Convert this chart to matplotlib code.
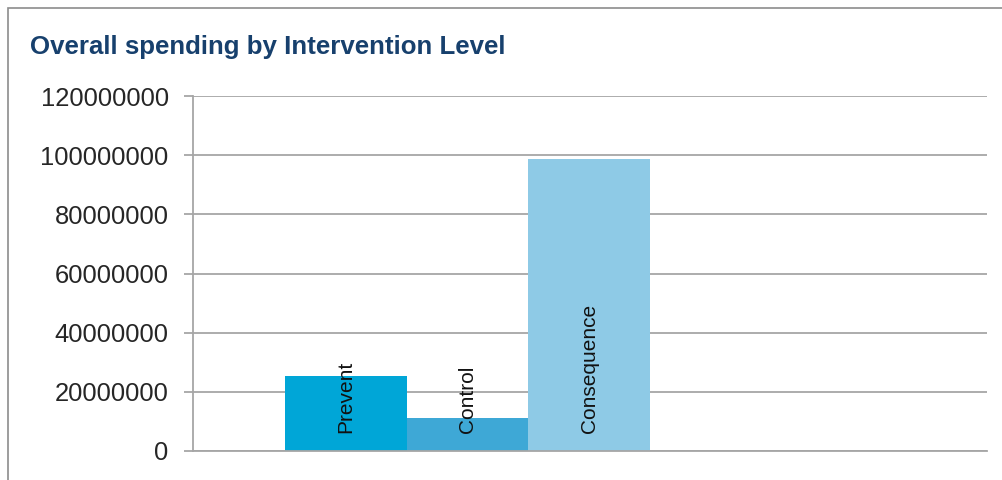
import matplotlib.pyplot as plt
from matplotlib.patches import Rectangle

# Chart data
levels = ['Prevent', 'Control', 'Consequence']
spending = [25400000, 11300000, 98800000]
bar_colors = ['#00A6D7', '#3EA8D6', '#8ECAE6']
y_ticks = [0, 20000000, 40000000, 60000000, 80000000, 100000000, 120000000]

plt.rcParams['font.family'] = ['Liberation Sans', 'DejaVu Sans']

fig = plt.figure(figsize=(10.03, 4.80), dpi=100)
ax = fig.add_axes([193 / 1003, 1 - 451 / 480, 794 / 1003, 355 / 480])

# Bars sit side by side with no gap
positions = list(range(len(levels)))
ax.bar(positions, spending, width=1.0, color=bar_colors, zorder=2)

# Category names written inside the bars, rotated
for x, name in zip(positions, levels):
    ax.text(x, 6000000, name, rotation=90, ha='center', va='bottom',
            fontsize=15, color='#111111', zorder=3)

ax.set_xlim(-0.5 - 92 / 121.7, -0.5 + 702 / 121.7)
ax.set_ylim(0, 120000000)
ax.set_yticks(y_ticks)
ax.set_yticklabels([str(v) for v in y_ticks], fontsize=18.4, color='#262626')
ax.set_xticks([])

ax.grid(axis='y', color='#A6A6A6', linewidth=1.3, zorder=1)
for side in ['top', 'right']:
    ax.spines[side].set_visible(False)
ax.spines['bottom'].set_color('#A6A6A6')
ax.spines['bottom'].set_linewidth(1.3)
ax.spines['left'].set_color('#A6A6A6')
ax.spines['left'].set_linewidth(1.3)
ax.tick_params(axis='y', length=6.5, width=1.3, color='#A6A6A6', pad=11)

# Title
fig.text(30 / 1003, 1 - 54 / 480, 'Overall spending by Intervention Level',
         fontsize=18.6, fontweight='bold', color='#17406D', va='baseline', ha='left')

# Outer frame around the chart area
fig.patches.append(Rectangle((8 / 1003, -0.1), 1.2, 1.1 - 8 / 480,
                             transform=fig.transFigure, fill=False,
                             edgecolor='#8C8C8C', linewidth=1.2))

fig.savefig('out.png', dpi=100)
